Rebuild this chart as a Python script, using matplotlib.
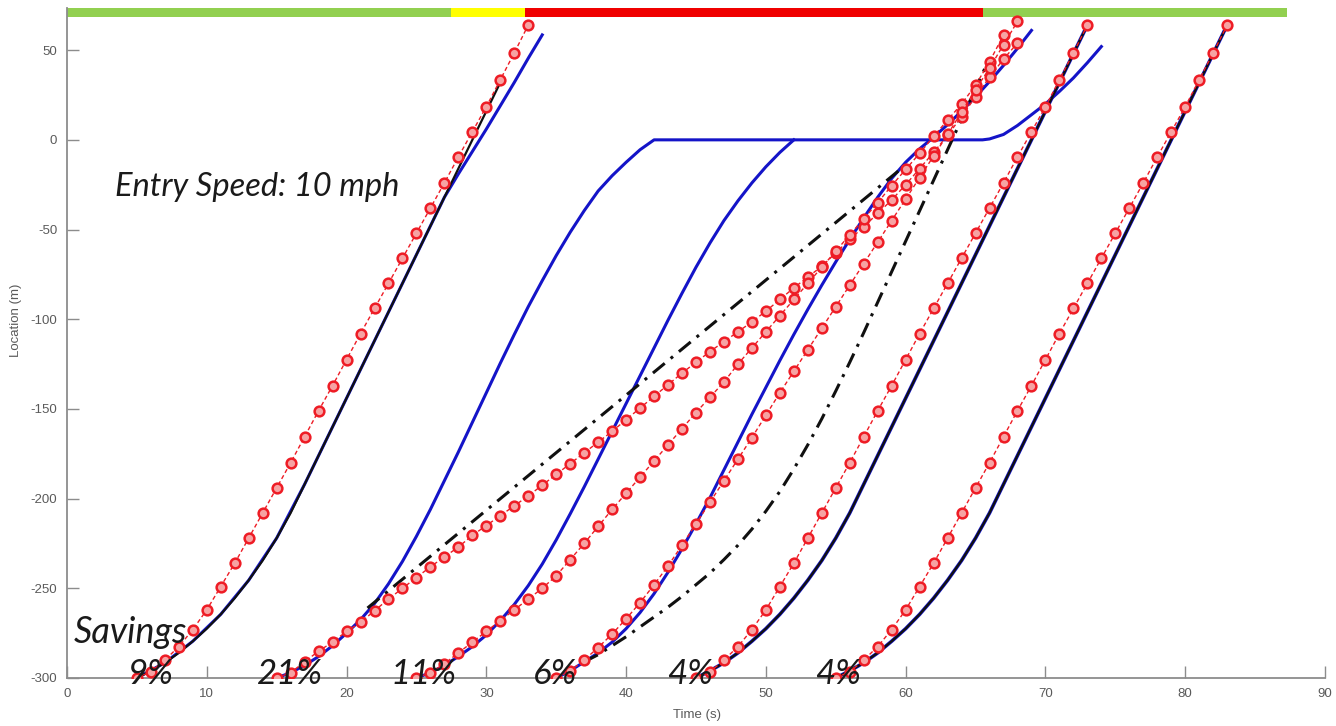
import numpy as np
import matplotlib
matplotlib.use('Agg')
import matplotlib.pyplot as plt

plt.rcParams['axes.unicode_minus'] = False

# vehicle entry times (s) and fuel savings labels
entry_times = [5, 15, 25, 35, 45, 55]
savings = ['9%', '21%', '11%', '6%', '4%', '4%']

# signal phases at the stop line
signal_times = [0, 27.5, 32.8, 65.5, 87.3]
signal_colors = ['#92D050', '#FFFF00', '#F00000', '#92D050']

# red (eco) trajectories, one sample per second from each start time
v1_red = [-300, -296.5, -290, -282.5, -273, -262, -249, -236, -222, -208, -194, -180, -165.5, -151, -137,
          -122.5, -108, -94, -80, -66, -52, -38, -24, -9.5, 4.5, 18.5, 33.5, 48.5, 64]
v2_red = [-300, -297, -291, -285, -280, -274, -269, -262.5, -256, -250, -244, -238, -232.5, -227, -220.5,
          -215, -209.5, -204, -198.5, -192.5, -186.5, -180.5, -174.5, -168.5, -162.5, -156, -149.5, -143,
          -136.5, -130, -124, -118, -112.5, -107, -101.5, -95.5, -89, -82.5, -76.5, -70.5, -63, -55.5, -48.5,
          -41, -33.5, -25, -16, -7, 2.5, 13, 24, 35, 45, 54]
v3_red = [-300, -297, -292, -286, -280, -274, -268, -262, -256, -250, -243, -234, -225, -215.5, -206, -197,
          -188, -179, -170, -161, -152, -143.5, -135, -125, -116, -107, -98, -89, -80, -71, -62, -53, -44,
          -35, -25.5, -16.5, -7.5, 2, 11, 20, 30.5, 43.5, 58.5]
v4_red = [-300, -296, -290, -283, -275.5, -267, -258, -248, -237.5, -226, -214, -202, -190, -178, -166,
          -153.5, -141, -129, -117, -105, -93, -81, -69, -57, -45, -33, -21, -9, 3, 15.5, 28, 40, 53, 66]
v5_red = [-300, -296.5, -290, -282.5, -273, -262, -249, -236, -222, -208, -194, -180, -165.5, -151, -137,
          -122.5, -108, -94, -80, -66, -52, -38, -24, -9.5, 4.5, 18.5, 33.5, 48.5, 64]
v6_red = [-300, -296.5, -290, -282.5, -273, -262, -249, -236, -222, -208, -194, -180, -165.5, -151, -137,
          -122.5, -108, -94, -80, -66, -52, -38, -24, -9.5, 4.5, 18.5, 33.5, 48.5, 64]

# baseline (black) trajectories, one sample per second from each start time
v1_black = [-300, -296, -291.5, -286, -279.5, -272.5, -264.5, -255.5, -245.5, -234.5, -222, -208, -192,
            -176, -160, -144, -128, -112, -96, -80, -64, -48, -32, -16, 0, 16, 32]
v5_black = [-300, -296, -291.5, -286, -279.5, -272.5, -264.5, -255.5, -245.5, -234.5, -222, -208, -192,
            -176, -160, -144, -128, -112, -96, -80, -64, -48, -32, -16, 0, 16, 32, 48, 64]
v6_black = [-300, -296, -291.5, -286, -279.5, -272.5, -264.5, -255.5, -245.5, -234.5, -222, -208, -192,
            -176, -160, -144, -128, -112, -96, -80, -64, -48, -32, -16, 0, 16, 32, 48, 64]

# blue trajectories
v1_blue_t = [5, 7, 9, 11, 13, 15, 17, 19, 21, 23, 25, 27, 28, 29, 30, 31, 32, 33, 34]
v1_blue = [-300, -291.5, -279.5, -264.5, -245.5, -222, -192, -160, -128, -96, -64, -32, -19, -6.5, 6, 19,
           32, 45.5, 58.5]
v2_blue_t = [15, 16, 17, 18, 19, 20, 21, 22, 23, 24, 25, 26, 27, 28, 29, 30, 31, 32, 33, 34, 35, 36, 37, 38,
             39, 40, 41, 42, 65.5, 66, 67, 68, 69, 70, 71, 72, 73, 74]
v2_blue = [-300, -297, -293, -288, -282, -275, -267.5, -258.5, -247.5, -235, -221, -206, -190, -174, -157.5,
           -141, -124.5, -108.5, -93, -78.5, -64.5, -51.5, -39.5, -28.5, -20, -12.5, -5.5, 0, 0, 0.5, 3, 8,
           14, 20, 27, 34.5, 43, 52]
v3_blue = [-300, -297, -293, -288, -282.5, -276, -268, -259, -248.5, -236.5, -223, -208.5, -193.5, -178,
           -162.5, -147, -131.5, -116, -100.5, -85.5, -71, -57.5, -45, -34, -24, -15, -7, 0]
v4_blue = [-300, -296, -291, -286, -280, -272.5, -263.5, -253, -241, -228, -214, -199.5, -184, -168.5, -153,
           -138, -123, -108.5, -94.5, -81, -68, -55.5, -43.5, -32, -21.5, -12.5, -5, 1.5, 8.5, 16, 24, 32.5,
           41.5, 51, 61]

# black dash-dot trajectories
v2_dash_t = [21.5, 60.0]
v2_dash = [-261, -14]
v4_dash = [-291, -287, -282, -277, -271.5, -266, -260.5, -254.5, -248, -241.5, -234, -226, -217, -207,
           -196, -183.5, -170, -155.5, -140, -124, -107.5, -90.5, -73.5, -56.5, -39.5, -22.5, -5.5, 11.5,
           28.5, 45.5]
v4_dash_start = 37


def secs(start, values):
    return np.arange(len(values)) + start


fig = plt.figure(figsize=(13.36, 7.26), dpi=100)
ax = fig.add_axes([67 / 1336, 48 / 726, 1258 / 1336, 670 / 726])

blue = '#1414C8'
red = '#EE1C25'
dark = '#101010'

# signal bar along the top
for i in range(len(signal_colors)):
    ax.broken_barh([(signal_times[i], signal_times[i + 1] - signal_times[i])], (68.6, 4.9),
                   facecolors=signal_colors[i], zorder=1)

# blue
ax.plot(v1_blue_t, v1_blue, color=blue, lw=2.2, zorder=2)
ax.plot(v2_blue_t, v2_blue, color=blue, lw=2.2, zorder=2)
ax.plot(secs(entry_times[2], v3_blue), v3_blue, color=blue, lw=2.2, zorder=2)
ax.plot(secs(entry_times[3], v4_blue), v4_blue, color=blue, lw=2.2, zorder=2)
ax.plot(secs(entry_times[4], v5_black), v5_black, color=blue, lw=2.6, zorder=2)
ax.plot(secs(entry_times[5], v6_black), v6_black, color=blue, lw=2.6, zorder=2)

# black baselines
ax.plot(secs(entry_times[0], v1_black), v1_black, color=dark, lw=1.6, zorder=3)
ax.plot(secs(entry_times[4], v5_black), v5_black, color=dark, lw=1.6, zorder=3)
ax.plot(secs(entry_times[5], v6_black), v6_black, color=dark, lw=1.6, zorder=3)

# black dash-dot
ax.plot(v2_dash_t, v2_dash, color=dark, lw=2.2, dashes=(5, 2.5, 1, 2.5), zorder=3)
ax.plot(secs(v4_dash_start, v4_dash), v4_dash, color=dark, lw=2.2, dashes=(5, 2.5, 1, 2.5), zorder=3)

# red eco trajectories
for start, vals in zip(entry_times, [v1_red, v2_red, v3_red, v4_red, v5_red, v6_red]):
    ax.plot(secs(start, vals), vals, color=red, lw=1.0, ls=(0, (3, 2)), marker='o', ms=7,
            mfc='#F6A3A3', mec=red, mew=1.8, zorder=4)

ax.set_xlim(0, 90)
ax.set_ylim(-300, 73.5)
ax.set_xticks(np.arange(0, 91, 10))
ax.set_yticks(np.arange(-300, 51, 50))
for s in ['top', 'right']:
    ax.spines[s].set_visible(False)
for s in ['left', 'bottom']:
    ax.spines[s].set_color('#8C8C8C')
    ax.spines[s].set_linewidth(1.3)
ax.tick_params(direction='in', length=8.5, width=1.0, color='#8C8C8C', labelcolor='#5A5A5A',
               labelsize=9.5, pad=7)
for lab in ax.get_xticklabels() + ax.get_yticklabels():
    lab.set_fontfamily('Liberation Sans')

fig.text(697 / 1336, 1 - 715 / 726, 'Time (s)', ha='center', va='center', fontsize=9.5,
         color='#5A5A5A', family='Liberation Sans')
fig.text(16.5 / 1336, 1 - 320 / 726, 'Location (m)', ha='center', va='center', rotation=90,
         fontsize=9.5, color='#5A5A5A', family='Liberation Sans')

ax.text(3.45, -31.5, 'Entry Speed: 10 mph', fontsize=23.5, style='italic', family='Lato',
        color='#1A1A1A', va='baseline', ha='left', zorder=6)
ax.text(0.45, -280.5, 'Savings', fontsize=26, style='italic', family='Lato',
        color='#1A1A1A', va='baseline', ha='left', zorder=6)
# label offsets from each vehicle's entry time
label_shift = [1.0, 0.95, 0.5, -0.1, -0.4, 0.15]
for start, dx, lab in zip(entry_times, label_shift, savings):
    ax.text(start + dx, -303.5, lab, fontsize=25, style='italic', family='Lato',
            color='#1A1A1A', va='baseline', ha='center', zorder=6)

fig.savefig('out.png', dpi=100)
